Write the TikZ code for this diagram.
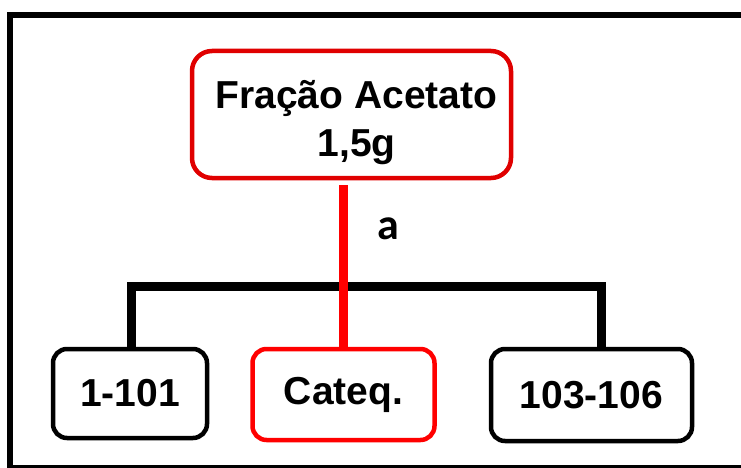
\documentclass[tikz,border=0pt]{standalone}
\usepackage{fontspec}
\setmainfont{Liberation Sans}
\newfontfamily\lblfont{Carlito}

\begin{document}
\begin{tikzpicture}[x=1pt,y=-1pt,line join=miter,
    box/.style={draw=black,line width=4.5pt,rounded corners=14pt,fill=white,inner sep=0pt,
        align=center,font=\fontsize{39}{48}\selectfont\bfseries},
    redbox/.style={box,draw=red},
    topbox/.style={box,draw=red!88!black,rounded corners=20pt},
    link/.style={line width=9pt},
    redlink/.style={link,red}]

    \clip (0,0) rectangle (741,468);
    \draw[line width=6pt] (10,15) rectangle (760,468);

    % fraction at the top
    \draw (351.5,114.5) node[topbox,minimum width=319pt,minimum height=127pt] (frac) {};
    \node[inner sep=0pt,align=center,font=\fontsize{39}{48}\selectfont\bfseries]
        at ([xshift=5pt,yshift=-8pt]frac.center) (fractxt) {Fração Acetato\\1,5g};

    % the three sub-fractions
    \draw (130,393.5) node[box,minimum width=154pt,minimum height=89pt] (f1) {1-101};
    \draw (343.5,394.5) node[redbox,minimum width=182pt,minimum height=91pt] (cat) {Cateq.};
    \draw (591.5,395) node[box,minimum width=201pt,minimum height=92pt] (f3) {103-106};

    \coordinate (fork) at (343.5,286.5);
    \draw[link] ([xshift=1.5pt]f1.north) |- (fork) -| ([xshift=9.5pt]f3.north);
    \draw[redlink,shorten >=5pt] (cat.north) -- node[pos=0.71,right=29pt,inner sep=0pt,text=black,font=\lblfont\fontsize{44}{44}\selectfont\bfseries] (stepa) {a} (cat.north |- frac.south);

\end{tikzpicture}
\end{document}
